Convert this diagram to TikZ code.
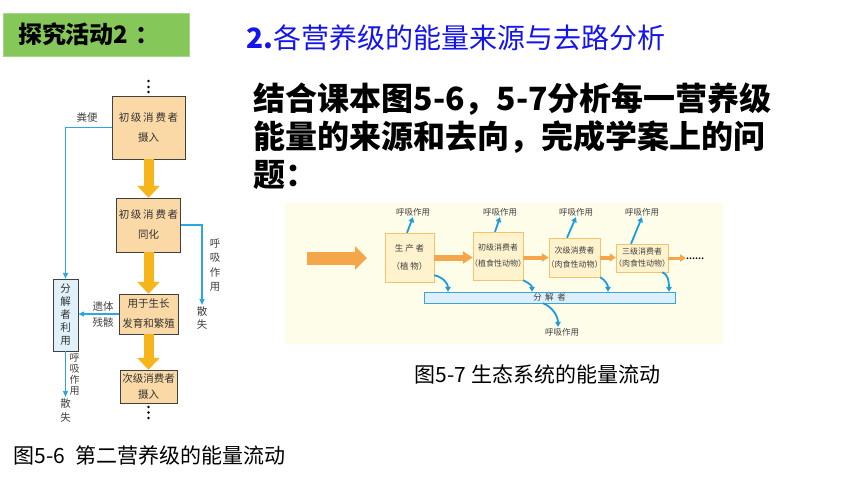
\documentclass[tikz,border=0pt]{standalone}
\usepackage{fontspec}
\newfontfamily\cjk{Noto Sans CJK SC}
\newfontfamily\cjkhalt[RawFeature=+halt]{Noto Sans CJK SC}
\usetikzlibrary{positioning}
\usetikzlibrary{arrows.meta}
\definecolor{peach}{HTML}{FAD9A6}
\definecolor{gold}{HTML}{F6B51B}
\definecolor{lineblue}{HTML}{2CA7E3}
\definecolor{decompfill}{HTML}{E0F1FA}
\definecolor{paper}{HTML}{FEFDEA}
\definecolor{levelfill}{HTML}{FFF3CE}
\definecolor{levelline}{HTML}{F6C36B}
\definecolor{floworange}{HTML}{F5A54A}
\definecolor{barfill}{HTML}{DDEFFA}
\definecolor{barline}{HTML}{3BA4DE}
\definecolor{respblue}{HTML}{1A9DDF}
\definecolor{badgegreen}{HTML}{86C75A}
\definecolor{badgeline}{HTML}{A6D68A}
\definecolor{titleblue}{HTML}{1414EE}
\tikzset{
	stage/.style={draw=black!75, fill=peach, inner sep=0pt, align=center, text=black!80, font=\cjk\fontsize{10.5}{20}\selectfont},
	decomp/.style={draw=black!75, fill=decompfill, inner sep=0pt, align=center, text=black!80, font=\cjk\fontsize{10.5}{13}\selectfont},
	vlabel/.style={inner sep=0pt, align=center, text=black!75, font=\cjk\fontsize{10.5}{14.5}\selectfont},
	level/.style={draw=levelline, fill=levelfill, inner sep=0pt, align=center, text=black!75},
	resp/.style={inner sep=1pt, text=black!75, font=\cjk\fontsize{8.5}{10}\selectfont},
}

\begin{document}
\begin{tikzpicture}[x=1pt, y=-1pt]
		\useasboundingbox (0,0) rectangle (860,484);
		
		% heading
		\node (badge) [fill=badgegreen, draw=badgeline, inner xsep=15pt, inner ysep=0pt, text width=156pt, minimum height=43pt, align=left, font=\cjk\bfseries\fontsize{24}{24}\selectfont] at (96,34.5) {探究活动2\hspace{7pt}：};
		\node (heading) [anchor=west, text=titleblue, font=\cjk\fontsize{28}{28}\selectfont] at (243,38) {\textbf{2.}各营养级的能量来源与去路分析};
		\node (task) [anchor=west, align=left, font=\cjk\bfseries\fontsize{32}{38}\selectfont] at (250,136) {结合课本图5-6，5-7分析每一营养级\\能量的来源和去向，完成学案上的问\\题：};
		
		% fig 5-6
		\foreach \y in {81,87,92} \fill (148.5,\y) circle (1.3pt);
		\node (intake1) [stage, minimum width=73pt, minimum height=63pt] at (148.5,127.5) {初\,级\,消\,费\,者\\摄入};
		\node (assim1) [stage, minimum width=64pt, minimum height=54pt] at (148.5,225) {初\,级\,消\,费\,者\\同化};
		\node (growth) [stage, minimum width=59pt, minimum height=40pt] at (148.5,314) {用于生长\\发育和繁殖};
		\node (intake2) [stage, minimum width=57pt, minimum height=33pt, font=\cjk\fontsize{10.5}{16}\selectfont] at (148.5,386.5) {次级消费者\\摄入};
		\node (decompL) [decomp, minimum width=25pt, minimum height=72pt] at (65.5,315) {分\\解\\者\\利\\用};
		\foreach \y in {407,412.5,418} \fill (148.5,\y) circle (1.3pt);
		
		\coordinate (lossA) at (202,305);
		\coordinate (lossB) at (65.5,397);
		\node (feces) [vlabel] at (87,118) {粪便};
		\node (respA) [vlabel] at (215,265) {呼\\吸\\作\\用};
		\node (sanA) [vlabel, below=1pt of lossA, font=\cjk\fontsize{10.5}{13}\selectfont] {散\\失};
		\node (remains) [vlabel, font=\cjk\fontsize{10.5}{16}\selectfont] at (103,315) {遗体\\残骸};
		\node (respB) [vlabel, font=\cjk\fontsize{10}{11}\selectfont] at (74.5,374) {呼\\吸\\作\\用};
		\node (sanB) [vlabel, below=1pt of lossB, font=\cjk\fontsize{10.5}{14}\selectfont] {散\\失};
		
		\begin{scope}[line width=10pt, gold, -{Triangle[length=12pt, width=22pt]}]
			\draw (intake1.south) -- (assim1.north);
			\draw (assim1.south) -- (growth.north);
			\draw (growth.south) -- (intake2.north);
		\end{scope}
		\begin{scope}[line width=1.3pt, lineblue, -{Triangle[length=6pt, width=5pt]}]
			\draw (intake1.west) -| (decompL.north);
			\draw (assim1.east) -| (lossA);
			\draw (growth.west) -- (growth.west -| decompL.east);
			\draw (decompL.south) -- (lossB);
		\end{scope}
		
		\node (cap56) [anchor=west, font=\cjk\fontsize{21}{21}\selectfont] at (10,455) {图5-6\hspace{10pt}第二营养级的能量流动};
		
		% fig 5-7
		\fill[paper] (285,203) rectangle (723,344);
		\node (prod) [level, minimum width=49pt, minimum height=49pt, font=\cjkhalt\fontsize{8.5}{18}\selectfont] at (409.5,257.5) {生\ 产\ 者\\（植\ 物）};
		\node (c1) [level, minimum width=50pt, minimum height=48pt, font=\cjkhalt\fontsize{8}{16}\selectfont] at (498,256) {初级消费者\\（植食性动物）};
		\node (c2) [level, minimum width=51pt, minimum height=39pt, font=\cjkhalt\fontsize{8}{14}\selectfont] at (574.5,257.5) {次级消费者\\（肉食性动物）};
		\node (c3) [level, minimum width=52pt, minimum height=28pt, font=\cjkhalt\fontsize{8}{12}\selectfont] at (642,258) {三级消费者\\（肉食性动物）};
		\node (more) [anchor=base west, inner sep=0pt, font=\cjk\bfseries\fontsize{8}{8}\selectfont] at (686,259) {……};
		\node (bar) [draw=barline, fill=barfill, inner sep=0pt, minimum width=251pt, minimum height=11pt, text=black!75, font=\cjk\fontsize{8.5}{10}\selectfont] at (549.5,297.5) {分\hspace{3.5pt}解\hspace{3.5pt}者};
		
		\node (r1) [resp] at (413,212) {呼吸作用};
		\node (r2) [resp] at (500,212) {呼吸作用};
		\node (r3) [resp] at (576,212) {呼吸作用};
		\node (r4) [resp] at (642,212) {呼吸作用};
		\node (r5) [resp] at (562,332) {呼吸作用};
		
		\coordinate (sunA) at (307,258);
		\coordinate (sunB) at (367,258);
		\begin{scope}[floworange]
			\draw[line width=13pt, -{Triangle[length=12pt, width=23pt]}] (sunA) -- (sunB);
			\draw[line width=6pt, -{Triangle[length=10pt, width=12pt]}] (prod.east) -- (prod.east -| c1.west);
			\draw[line width=4pt, -{Triangle[length=7pt, width=8pt]}] (c2.west -| c1.east) -- (c2.west);
			\draw[line width=4pt, -{Triangle[length=6pt, width=8pt]}] (c2.east) -- (c2.east -| c3.west);
			\draw[line width=3pt, -{Triangle[length=6pt, width=7pt]}] (c3.east) -- (c3.east -| more.west);
		\end{scope}
		
		\begin{scope}[line width=1.8pt, respblue, -{Triangle[length=5pt, width=5.5pt]}]
			\draw ([xshift=-2.5pt]prod.north) -- (r1.south);
			\draw ([xshift=-3pt]c1.north) -- (r2.south);
			\draw ([xshift=-7.5pt]c2.north) -- (r3.south);
			\draw ([xshift=-11pt]c3.north) -- (r4.south);
			\draw ([yshift=7pt]prod.south east) .. controls +(9,2) and +(0,-8) .. ([xshift=-101.5pt]bar.north);
			\draw (c1.south east) .. controls +(6,3) and +(0,-6) .. ([xshift=-17.5pt]bar.north);
			\draw (c2.south east) .. controls +(5,3) and +(0,-7) .. ([xshift=58.5pt]bar.north);
			\draw ([xshift=-6pt]c3.south east) .. controls +(6,2) and +(0,-10) .. ([xshift=119.5pt]bar.north);
			\draw ([xshift=-6.5pt]bar.south) .. controls +(10,4) and +(0,-10) .. ([xshift=-4pt]r5.north);
		\end{scope}
		
		\node (cap57) [anchor=west, font=\cjk\fontsize{21}{21}\selectfont] at (411,374) {图5-7\hspace{5pt}生态系统的能量流动};
	\end{tikzpicture}
\end{document}
